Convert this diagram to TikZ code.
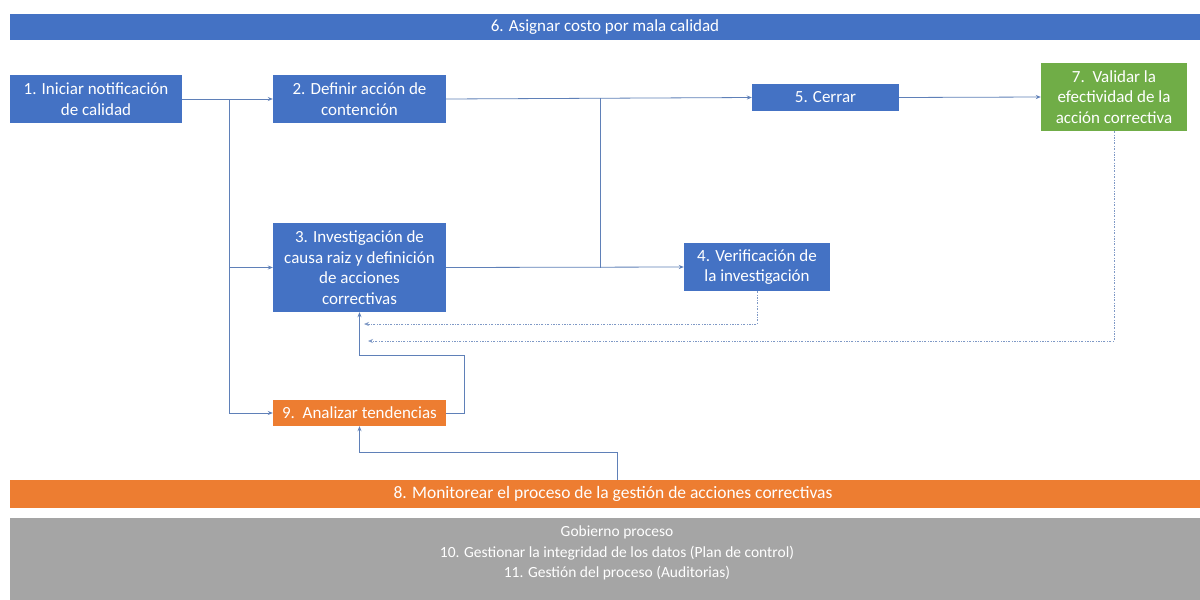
\documentclass[tikz,border=0pt]{standalone}
\usepackage{fontspec}
\setmainfont{Carlito}
\usetikzlibrary{arrows.meta}
\definecolor{cblue}{HTML}{4472C4}
\definecolor{corange}{HTML}{ED7D31}
\definecolor{cgreen}{HTML}{70AD47}
\definecolor{cgray}{HTML}{A5A5A5}
\definecolor{cline}{HTML}{5F80B8}
\begin{document}
\begin{tikzpicture}[x=1pt,y=-1pt,
  box/.style={fill=cblue, text=white, inner sep=0pt, align=center,
    font=\fontsize{17}{20.5}\selectfont},
  band/.style={inner sep=0pt, align=center, text=white},
  conn/.style={draw=cline, line width=0.8pt, -{Stealth[length=5pt,width=4pt]}},
  plain/.style={draw=cline, line width=0.8pt},
  fb/.style={draw=cline!80, line width=0.8pt, dash pattern=on 2pt off 1.5pt on 0.6pt off 1.5pt,
    -{Stealth[length=5pt,width=4pt]}}]
\useasboundingbox (0,0) rectangle (1200,600);
\fill[white] (0,0) rectangle (1200,600);

\node[band, fill=cblue, minimum width=1190pt, minimum height=26pt, font=\fontsize{17}{19}\selectfont]
  (bar6) at (605,27) {6. Asignar costo por mala calidad};
\node[box, minimum width=172pt, minimum height=48pt] (b1) at (96,99)
  {1. Iniciar notificación\\de calidad};
\node[box, minimum width=173pt, minimum height=48pt] (b2) at (359.5,99)
  {2. Definir acción de\\contención};
\node[box, minimum width=147pt, minimum height=27pt] (b5) at (825.5,97.5)
  {5. Cerrar};
\node[box, fill=cgreen, minimum width=146pt, minimum height=68pt] (b7) at (1114,97)
  {7.\ \ Validar la\\efectividad de la\\acción correctiva};
\node[box, minimum width=173pt, minimum height=89pt] (b3) at (359.5,267.5)
  {3. Investigación de\\causa raiz y definición\\de acciones\\correctivas};
\node[box, minimum width=146pt, minimum height=48pt] (b4) at (757,267)
  {4. Verificación de\\la investigación};
\node[box, fill=corange, minimum width=173pt, minimum height=26pt] (b9) at (359.5,413)
  {9.\ \ Analizar tendencias};
\node[band, fill=corange, minimum width=1206pt, minimum height=28pt, font=\fontsize{17.5}{19}\selectfont]
  (bar8) at (613,494) {8. Monitorear el proceso de la gestión de acciones correctivas};
\node[band, fill=cgray, minimum width=1214pt, minimum height=82pt, font=\fontsize{15.5}{20.5}\selectfont]
  (gov) at (617,559) {Gobierno proceso\\10. Gestionar la integridad de los datos (Plan de control)\\11. Gestión del proceso (Auditorias)\\[-12.5pt]\strut};

% connectors
\coordinate (j1) at (229,99);
\coordinate (j3) at (229,267.5);
\coordinate (j2) at (600,98);
\coordinate (j4) at (600,267.5);
\draw[conn] (b1.east) -- (b2.west);
\draw[conn] (j1) |- (b9.west);
\draw[conn] (j3) -- (b3.west);
\draw[conn] (b2.east) -- (b5.west);
\draw[conn] (b3.east) -- (b4.west);
\draw[plain] (j4) -- (j2);
\draw[conn] (b5.east) -- (b7.west);

\coordinate (f4) at (364,324);
\coordinate (f7) at (368,341);
\draw[fb] (b4.south) |- (f4);
\draw[fb] (b7.south) |- (f7);

\coordinate (k1) at (464,355);
\draw[conn] (b9.east) -| (k1) -| (b3.south);
\coordinate (k2) at (617,452);
\draw[conn] (k2 |- bar8.north) -- (k2) -| (b9.south);
\end{tikzpicture}
\end{document}
